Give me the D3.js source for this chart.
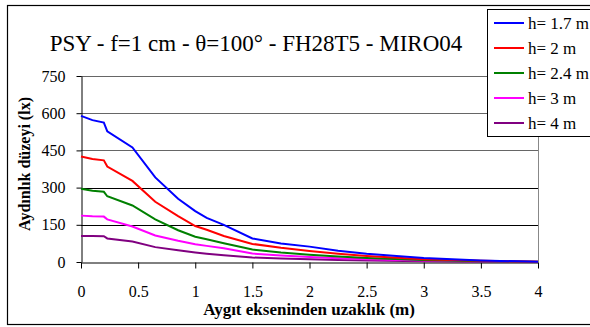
<!DOCTYPE html>
<html><head><meta charset="utf-8">
<script src="https://cdn.jsdelivr.net/npm/d3@7"></script>
<style>body{margin:0;background:#fff}svg{display:block}</style>
</head><body>
<script>
const title = "PSY - f=1 cm - θ=100° - FH28T5 - MIRO04";
const xLabel = "Aygıt ekseninden uzaklık (m)";
const yLabel = "Aydınlık düzeyi (lx)";
const distances = [0, 0.1, 0.2, 0.23, 0.45, 0.65, 0.85, 1.0, 1.1, 1.25, 1.5, 1.75, 2.0, 2.25, 2.5, 3.0, 3.5, 4.0];
const seriesNames = ["h= 1.7 m", "h= 2 m", "h= 2.4 m", "h= 3 m", "h= 4 m"];
const seriesColors = ["#0000ff", "#ff0000", "#008000", "#ff00ff", "#800080"];
const h17 = [589, 572, 562, 527, 462, 341, 255, 205, 178, 150, 95, 75, 62, 45, 33, 16, 6, 1];
const h2  = [425, 415, 410, 385, 327, 243, 185, 145, 130, 105, 73, 57, 44, 33, 24, 11, 5, 1];
const h24 = [295, 287, 283, 265, 228, 172, 128, 102, 92, 76, 50, 38, 29, 22, 16, 8, 3, 1];
const h3  = [187, 184, 183, 172, 143, 107, 86, 72, 65, 55, 34, 26, 20, 15, 11, 6, 3, 1];
const h4  = [105, 105, 104, 95, 83, 60, 47, 38, 33, 27, 18, 14, 11, 8, 6, 3, 1, 0];
const seriesValues = [h17, h2, h24, h3, h4];
const xTicks = [0, 0.5, 1, 1.5, 2, 2.5, 3, 3.5, 4];
const yTicks = [0, 150, 300, 450, 600, 750];

const FONT = "Liberation Serif";
const W = 590, H = 327;
const svg = d3.select("body").append("svg").attr("width", W).attr("height", H)
  .attr("font-family", FONT);

// outer frame
svg.append("rect").attr("x", 7.5).attr("y", 5.5).attr("width", 600).attr("height", 319)
  .attr("fill", "#fff").attr("stroke", "#000").attr("stroke-width", 1.2);

const x = d3.scaleLinear().domain([0, 4]).range([81, 538]);
const y = d3.scaleLinear().domain([0, 750]).range([262, 76]);

// grid
svg.append("g").selectAll("line").data(yTicks.filter(d => d > 0)).join("line")
  .attr("x1", x(0)).attr("x2", x(4))
  .attr("y1", d => Math.round(y(d)) + 0.5).attr("y2", d => Math.round(y(d)) + 0.5)
  .attr("stroke", d => d >= 450 ? "#666" : "#000").attr("stroke-width", 1);
// right plot border
svg.append("line").attr("x1", Math.round(x(4)) + 0.5).attr("x2", Math.round(x(4)) + 0.5)
  .attr("y1", y(750)).attr("y2", y(0)).attr("stroke", "#888");

// axes
const xAxis = svg.append("g").attr("transform", `translate(0,${Math.round(y(0)) + 0.5})`)
  .call(d3.axisBottom(x).tickValues(xTicks).tickFormat(d3.format("")).tickSize(6).tickPadding(17).tickSizeOuter(0));
const yAxis = svg.append("g").attr("transform", `translate(${Math.round(x(0)) + 0.5},0)`)
  .call(d3.axisLeft(y).tickValues(yTicks).tickSize(5).tickPadding(11).tickSizeOuter(0));
[xAxis, yAxis].forEach(g => {
  g.attr("font-family", FONT).attr("font-size", 16);
  g.select(".domain").attr("stroke", "#000");
  g.selectAll(".tick line").attr("stroke", "#000");
  g.selectAll("text").attr("font-family", FONT).attr("font-size", 16).attr("fill", "#000");
});

// lines
const line = d3.line().x((d, i) => x(distances[i])).y(d => y(d));
svg.append("g").selectAll("path").data(seriesValues.slice().reverse()).join("path")
  .attr("d", d => line(d)).attr("fill", "none")
  .attr("stroke", (d, i) => seriesColors[seriesValues.length - 1 - i]).attr("stroke-width", 2);

// title
svg.append("text").attr("x", 256).attr("y", 51).attr("text-anchor", "middle")
  .attr("font-family", FONT).attr("font-size", 23).text(title);

// axis titles
svg.append("text").attr("x", 309).attr("y", 315).attr("text-anchor", "middle")
  .attr("font-family", FONT).attr("font-size", 17).attr("font-weight", "bold").text(xLabel);
svg.append("text").attr("transform", "translate(30,164) rotate(-90)").attr("text-anchor", "middle")
  .attr("font-family", FONT).attr("font-size", 16).attr("font-weight", "bold").text(yLabel);

// legend
const lg = svg.append("g");
lg.append("rect").attr("x", 487.5).attr("y", 9.5).attr("width", 120).attr("height", 127)
  .attr("fill", "#fff").attr("stroke", "#000");
const rowY = d3.scalePoint().domain(seriesNames).range([23, 123]);
seriesNames.forEach((n, i) => {
  lg.append("line").attr("x1", 494).attr("x2", 524).attr("y1", rowY(n)).attr("y2", rowY(n))
    .attr("stroke", seriesColors[i]).attr("stroke-width", 2);
  lg.append("text").attr("x", 528).attr("y", rowY(n) + 6)
    .attr("font-family", FONT).attr("font-size", 17).text(n);
});
</script>
</body></html>
